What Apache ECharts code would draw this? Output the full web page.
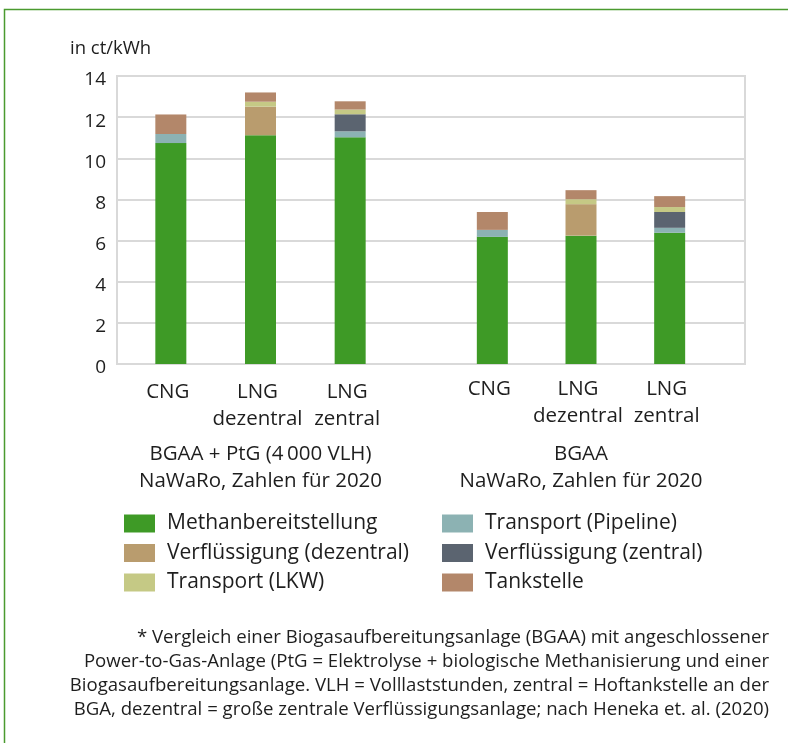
<!DOCTYPE html>
<html>
<head>
<meta charset="utf-8">
<script src="https://cdn.jsdelivr.net/npm/echarts@6/dist/echarts.min.js"></script>
<style>html,body{margin:0;padding:0;background:#fff;}#c{width:788px;height:743px;}</style>
</head>
<body>
<div id="c"></div>
<script>
const categories1 = ['CNG', 'LNG\ndezentral', 'LNG\nzentral'];
const categories2 = ['CNG', 'LNG\ndezentral', 'LNG\nzentral'];
const groupLabels = ['BGAA + PtG (4\u2009000 VLH)\nNaWaRo, Zahlen für 2020', 'BGAA\nNaWaRo, Zahlen für 2020'];
const yTicks = [0, 2, 4, 6, 8, 10, 12, 14];
const methan   = [10.74, 11.12, 11.02, 6.18, 6.24, 6.38];
const pipeline = [0.44, 0, 0.29, 0.34, 0, 0.24];
const verflDez = [0, 1.39, 0, 0, 1.53, 0];
const verflZen = [0, 0, 0.83, 0, 0, 0.77];
const lkw      = [0, 0.24, 0.23, 0, 0.24, 0.24];
const tank     = [0.95, 0.45, 0.40, 0.87, 0.44, 0.53];
const seriesNames = ['Methanbereitstellung', 'Transport (Pipeline)', 'Verflüssigung (dezentral)', 'Verflüssigung (zentral)', 'Transport (LKW)', 'Tankstelle'];
const seriesData = [methan, pipeline, verflDez, verflZen, lkw, tank];
const colors = ['#3e9a26', '#8cb2b3', '#b99c6e', '#5b6470', '#c5c985', '#b3876a'];
const footnote = [
  '* Vergleich einer Biogasaufbereitungsanlage (BGAA) mit angeschlossener',
  'Power-to-Gas-Anlage (PtG = Elektrolyse + biologische Methanisierung und einer',
  'Biogasaufbereitungsanlage. VLH = Volllaststunden, zentral = Hoftankstelle an der',
  'BGA, dezentral = große zentrale Verflüssigungsanlage; nach Heneka et. al. (2020)'
];

const FONT = '"Open Sans"';
const TXT = '#1e1e1e';
const chart = echarts.init(document.getElementById('c'), null, {renderer: 'canvas'});

const series = [];
seriesNames.forEach((n, i) => {
  [0, 1].forEach(g => {
    series.push({
      name: n, type: 'bar', stack: 'g' + g,
      xAxisIndex: g + 1, yAxisIndex: g + 1,
      barWidth: 31, itemStyle: {color: colors[i]},
      data: seriesData[i].slice(g * 3, g * 3 + 3).map(v => v === 0 ? '-' : v),
      animation: false
    });
  });
});

const catAxis = (idx, cats, name, gap) => ({
  type: 'category', gridIndex: idx, data: cats,
  axisLine: {show: false}, axisTick: {show: false},
  axisLabel: {margin: gap, fontFamily: FONT, fontSize: 20.5, lineHeight: 27.5, color: TXT, interval: 0, padding: [0, 6, 0, 0]},
  name: name, nameLocation: 'middle', nameGap: 77,
  nameTextStyle: {fontFamily: FONT, fontSize: 20.5, lineHeight: 27, color: TXT, verticalAlign: 'top'}
});
const hiddenY = idx => ({type: 'value', gridIndex: idx, min: 0, max: 14, interval: 2, show: false});
const legendText = {fontFamily: FONT, fontSize: 21, lineHeight: 18, color: TXT, padding: [0, 0, 0, 7]};

chart.setOption({
  color: colors,
  grid: [
    {left: 117, right: 43, top: 76, bottom: 379, show: true, borderColor: '#d9d9d9', borderWidth: 2},
    {left: 126, width: 269, top: 76, bottom: 379},
    {left: 448, width: 266, top: 76, bottom: 379}
  ],
  xAxis: [
    {type: 'value', gridIndex: 0, show: false},
    catAxis(1, categories1, groupLabels[0], 14),
    catAxis(2, categories2, groupLabels[1], 11)
  ],
  yAxis: [
    {type: 'value', gridIndex: 0, min: yTicks[0], max: yTicks[yTicks.length - 1], interval: 2,
     axisLine: {show: true, lineStyle: {color: '#d9d9d9', width: 2}}, axisTick: {show: false},
     splitLine: {show: true, lineStyle: {color: '#d9d9d9', width: 2}},
     axisLabel: {margin: 11, fontFamily: FONT, fontSize: 19, color: TXT, verticalAlign: 'top', lineHeight: 8},
     name: 'in ct/kWh', nameLocation: 'end', nameGap: 18,
     nameTextStyle: {fontFamily: FONT, fontSize: 18.5, color: TXT, align: 'left', padding: [0, 0, 0, -47]}},
    hiddenY(1), hiddenY(2)
  ],
  legend: [
    {data: [seriesNames[0], seriesNames[2], seriesNames[4]], orient: 'vertical', left: 124, top: 513, padding: 0,
     itemWidth: 31, itemHeight: 18, itemGap: 8.5, icon: 'rect', textStyle: legendText, selectedMode: false},
    {data: [seriesNames[1], seriesNames[3], seriesNames[5]], orient: 'vertical', left: 442, top: 513, padding: 0,
     itemWidth: 31, itemHeight: 18, itemGap: 8.5, icon: 'rect', textStyle: legendText, selectedMode: false}
  ],
  graphic: [
    {type: 'rect', shape: {x: 4.5, y: 9.5, width: 900, height: 900}, style: {fill: 'none', stroke: '#4a9a2f', lineWidth: 1.5}, silent: true},
    {type: 'group', children: footnote.map((t, i) => ({
      type: 'text', x: 769, y: 638 + i * 24,
      style: {text: t, font: '18.6px ' + FONT, fill: TXT, align: 'right', verticalAlign: 'middle'}
    }))}
  ],
  series: series,
  animation: false
});
</script>
</body>
</html>
